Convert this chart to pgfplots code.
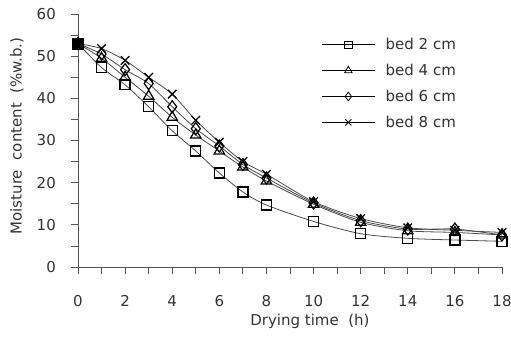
\documentclass[border=0pt]{standalone}
\usepackage{pgfplots}
\pgfplotsset{compat=1.18}
\usepackage{fontspec}
\setmainfont{DejaVu Sans}
\definecolor{axisgray}{HTML}{555555}
\definecolor{linegray}{HTML}{4A4A4A}
\definecolor{textgray}{HTML}{333333}
\pgfplotstableread{
t b2 b4 b6 b8
0 53 53 53 53
1 47.3 49.5 50.5 51.8
2 43.2 45.0 46.8 49.0
3 38.0 40.5 43.5 45.0
4 32.3 35.5 38.0 41.0
5 27.5 31.3 32.8 34.8
6 22.3 27.5 28.7 29.6
7 17.8 23.7 24.3 25.0
8 14.7 20.4 21.1 22.0
10 10.8 14.9 15.2 15.5
12 7.9 10.6 11.0 11.5
14 6.8 8.6 9.0 9.3
16 6.4 8.2 9.0 8.7
18 6.1 7.6 7.6 8.2
}\datatable
\begin{document}
\begin{tikzpicture}
\path[use as bounding box] (-78pt,-71pt) rectangle (433pt,267pt);
\begin{axis}[
  scale only axis, width=424pt, height=253pt,
  xmin=0, xmax=18, ymin=0, ymax=60,
  axis lines*=left,
  axis line style={color=axisgray, line width=0.8pt},
  xtick={0,2,...,18}, minor xtick={1,3,...,17},
  ytick={0,10,...,60}, minor ytick={5,15,...,55},
  tick align=outside, major tick length=7pt, minor tick length=7pt,
  every tick/.style={color=axisgray, line width=0.8pt},
  /pgf/number format/assume math mode=true,
  tick label style={font=\fontsize{15}{17}\selectfont, text=textgray},
  yticklabel style={anchor=east, inner sep=0pt, xshift=-15pt},
  xticklabel style={anchor=north, inner sep=0pt, yshift=-21pt},
  xlabel={Drying time\ \ (h)},
  ylabel={Moisture\ \ content\ \ (\%w.b.)},
  label style={font=\fontsize{15}{17}\selectfont, text=textgray},
  xlabel style={at={(axis description cs:0.547,-0.2134)}, anchor=center},
  ylabel style={at={(axis description cs:-0.1439,0.518)}, anchor=center},
  legend style={at={(axis description cs:0.575,0.905)}, anchor=north west, draw=none, fill=none,
    font=\fontsize{15}{17}\selectfont, text=textgray, row sep=13pt,
    inner sep=0pt, nodes={inner sep=0pt},
    /tikz/every odd column/.append style={column sep=11pt}},
  legend cell align=left,
  legend image code/.code={\draw[mark repeat=2,mark phase=2,#1, color=black, line width=0.7pt, every mark/.append style={scale=0.72, line width=0.8pt}] plot coordinates {(0pt,0pt) (26pt,0pt) (52pt,0pt)};},
]
\addplot[color=linegray, line width=0.8pt, smooth, tension=0.45, mark=square, mark size=5pt, mark options={solid, draw=black, fill=white, line width=1.3pt}] table[x=t,y=b2]{\datatable};
\addlegendentry{bed 2 cm}
\addplot[color=linegray, line width=0.8pt, smooth, tension=0.45, mark=triangle, mark size=6pt, mark options={solid, draw=black, fill=white, line width=1.2pt}] table[x=t,y=b4]{\datatable};
\addlegendentry{bed 4 cm}
\addplot[color=linegray, line width=0.8pt, smooth, tension=0.45, mark=diamond, mark size=6pt, mark options={solid, draw=black, fill=white, line width=1.2pt}] table[x=t,y=b6]{\datatable};
\addlegendentry{bed 6 cm}
\addplot[color=linegray, line width=0.8pt, smooth, tension=0.45, mark=x, mark size=6pt, mark options={solid, draw=black, line width=1.3pt}] table[x=t,y=b8]{\datatable};
\addlegendentry{bed 8 cm}
\addplot[forget plot, only marks, mark=square*, mark size=5.5pt, mark options={draw=black, fill=black}] coordinates {(0,53)};
\end{axis}
\end{tikzpicture}
\end{document}
